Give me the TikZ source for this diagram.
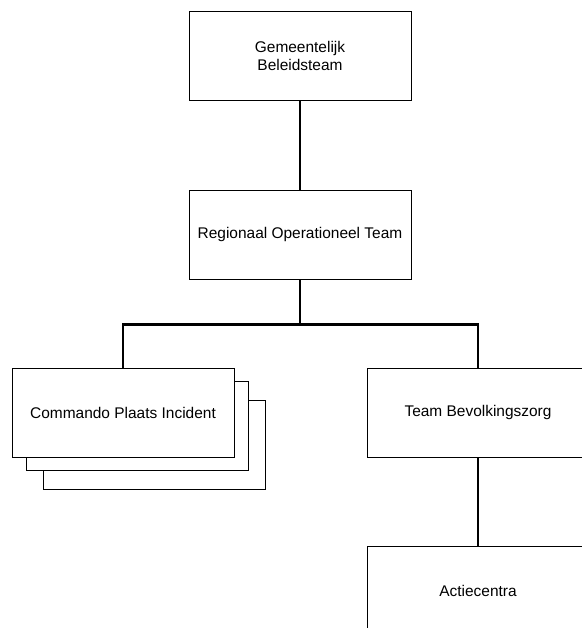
\documentclass[tikz,border=0pt]{standalone}
\usepackage{fontspec}
\setmainfont{Liberation Sans}
\usetikzlibrary{positioning,calc}

\begin{document}
\begin{tikzpicture}[
  team/.style={draw,line width=0.55pt,fill=white,minimum width=4.44cm,minimum height=1.78cm,
    align=center,inner sep=2pt,font=\fontsize{8.8}{10.3}\selectfont},
  link/.style={line width=1.2pt,black}]
\useasboundingbox (0,0) rectangle (11.64,-12.56);
\clip (0,0) rectangle (11.64,-12.56);

\node[team] (gbt) at (6.0,-1.12) {Gemeentelijk\\Beleidsteam};
\node[team] (rot) at (6.0,-4.69) {Regionaal Operationeel Team};

\node[team] (cpi3) at (3.08,-8.89) {};
\node[team] (cpi2) at (2.74,-8.51) {};
\node[team] (cpi) at (2.46,-8.25) {Commando Plaats Incident};

\node[team] (tbz) at (9.56,-8.25) {Team Bevolkingszorg};
\node[team] (actc) at (9.56,-11.81) {Actiecentra};

\coordinate (bus) at ($(rot.south)+(0,-0.9)$);
\draw[link] (gbt.south) -- (rot.north);
\draw[link] (rot.south) -- (bus);
\draw[link] (cpi.north) |- (bus) -| (tbz.north);
\draw[link] (tbz.south) -- (actc.north);
\end{tikzpicture}
\end{document}
